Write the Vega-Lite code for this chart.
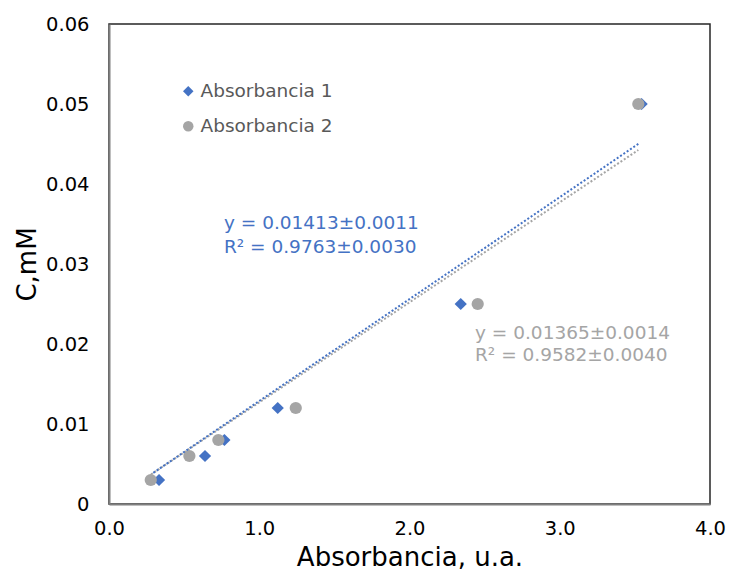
{
  "$schema": "https://vega.github.io/schema/vega-lite/v6.json",
  "width": 601,
  "height": 480,
  "autosize": {"type": "none"},
  "padding": {"left": 109, "top": 24, "right": 20, "bottom": 76},
  "background": "white",
  "config": {
    "font": "DejaVu Sans",
    "view": {"stroke": "#262626", "strokeWidth": 1.5},
    "axis": {
      "grid": false,
      "ticks": false,
      "labelFlush": false,
      "domainColor": "#7f7f7f",
      "domainWidth": 2,
      "labelColor": "#000000",
      "labelFont": "DejaVu Sans",
      "labelFontSize": 19.5,
      "titleFont": "DejaVu Sans",
      "titleFontSize": 26,
      "titleFontWeight": "normal",
      "titleColor": "#000000"
    },
    "legend": {
      "labelFont": "DejaVu Sans",
      "labelFontSize": 18.5,
      "labelColor": "#595959"
    }
  },
  "data": {
    "values": [
      {"kind": "point", "series": "Absorbancia 1", "x": 0.333, "y": 0.003},
      {"kind": "point", "series": "Absorbancia 1", "x": 0.639, "y": 0.006},
      {"kind": "point", "series": "Absorbancia 1", "x": 0.768, "y": 0.008},
      {"kind": "point", "series": "Absorbancia 1", "x": 1.123, "y": 0.012},
      {"kind": "point", "series": "Absorbancia 1", "x": 2.341, "y": 0.025},
      {"kind": "point", "series": "Absorbancia 1", "x": 3.545, "y": 0.05},
      {"kind": "point", "series": "Absorbancia 2", "x": 0.278, "y": 0.003},
      {"kind": "point", "series": "Absorbancia 2", "x": 0.535, "y": 0.006},
      {"kind": "point", "series": "Absorbancia 2", "x": 0.728, "y": 0.008},
      {"kind": "point", "series": "Absorbancia 2", "x": 1.243, "y": 0.012},
      {"kind": "point", "series": "Absorbancia 2", "x": 2.454, "y": 0.025},
      {"kind": "point", "series": "Absorbancia 2", "x": 3.523, "y": 0.05},
      {"kind": "trend", "series": "Absorbancia 2", "x": 0.28, "y": 0.0037},
      {"kind": "trend", "series": "Absorbancia 2", "x": 3.523, "y": 0.04425},
      {"kind": "trend", "series": "Absorbancia 1", "x": 0.295, "y": 0.0039},
      {"kind": "trend", "series": "Absorbancia 1", "x": 3.53, "y": 0.0451},
      {"kind": "label", "series": "Absorbancia 1", "x": 0.765, "y": 0.0351, "text": "y = 0.01413±0.0011"},
      {"kind": "label", "series": "Absorbancia 1", "x": 0.765, "y": 0.03216, "text": "R² = 0.9763±0.0030"},
      {"kind": "label", "series": "Absorbancia 2", "x": 2.436, "y": 0.02134, "text": "y = 0.01365±0.0014"},
      {"kind": "label", "series": "Absorbancia 2", "x": 2.436, "y": 0.01863, "text": "R² = 0.9582±0.0040"}
    ]
  },
  "encoding": {
    "x": {
      "field": "x",
      "type": "quantitative",
      "scale": {"domain": [0, 4], "nice": false, "zero": false, "padding": 0},
      "axis": {"values": [0, 1, 2, 3, 4], "format": ".1f", "labelPadding": 15, "title": "Absorbancia, u.a.", "titlePadding": 7}
    },
    "y": {
      "field": "y",
      "type": "quantitative",
      "scale": {"domain": [0, 0.06], "nice": false, "padding": 0},
      "axis": {"values": [0, 0.01, 0.02, 0.03, 0.04, 0.05, 0.06], "format": ".2~f", "labelPadding": 20, "title": "C,mM", "titlePadding": 5}
    }
  },
  "layer": [
    {
      "transform": [{"filter": "datum.kind === 'point'"}],
      "mark": {"type": "point", "filled": true, "opacity": 1, "size": 150},
      "encoding": {
        "color": {
          "field": "series",
          "type": "nominal",
          "scale": {"domain": ["Absorbancia 1", "Absorbancia 2"], "range": ["#4472C4", "#A5A5A5"]},
          "legend": {"title": null, "orient": "none", "legendX": 70, "legendY": 58, "symbolSize": 110, "rowPadding": 16, "labelOffset": 3, "padding": 0}
        },
        "shape": {
          "field": "series",
          "type": "nominal",
          "scale": {"domain": ["Absorbancia 1", "Absorbancia 2"], "range": ["diamond", "circle"]},
          "legend": {"title": null, "orient": "none", "legendX": 70, "legendY": 58, "symbolSize": 110, "rowPadding": 16, "labelOffset": 3, "padding": 0}
        }
      }
    },
    {
      "transform": [{"filter": "datum.kind === 'trend' && datum.series === 'Absorbancia 2'"}],
      "mark": {"type": "line", "color": "#A5A5A5", "strokeWidth": 2, "strokeDash": [2, 2]},
      "encoding": {}
    },
    {
      "transform": [{"filter": "datum.kind === 'trend' && datum.series === 'Absorbancia 1'"}],
      "mark": {"type": "line", "color": "#4472C4", "strokeWidth": 2, "strokeDash": [2, 2]},
      "encoding": {}
    },
    {
      "transform": [{"filter": "datum.kind === 'label' && datum.series === 'Absorbancia 1'"}],
      "mark": {"type": "text", "color": "#4472C4", "align": "left", "baseline": "middle", "fontSize": 18.5, "font": "DejaVu Sans"},
      "encoding": {"text": {"field": "text"}}
    },
    {
      "transform": [{"filter": "datum.kind === 'label' && datum.series === 'Absorbancia 2'"}],
      "mark": {"type": "text", "color": "#A5A5A5", "align": "left", "baseline": "middle", "fontSize": 18.5, "font": "DejaVu Sans"},
      "encoding": {"text": {"field": "text"}}
    }
  ]
}
